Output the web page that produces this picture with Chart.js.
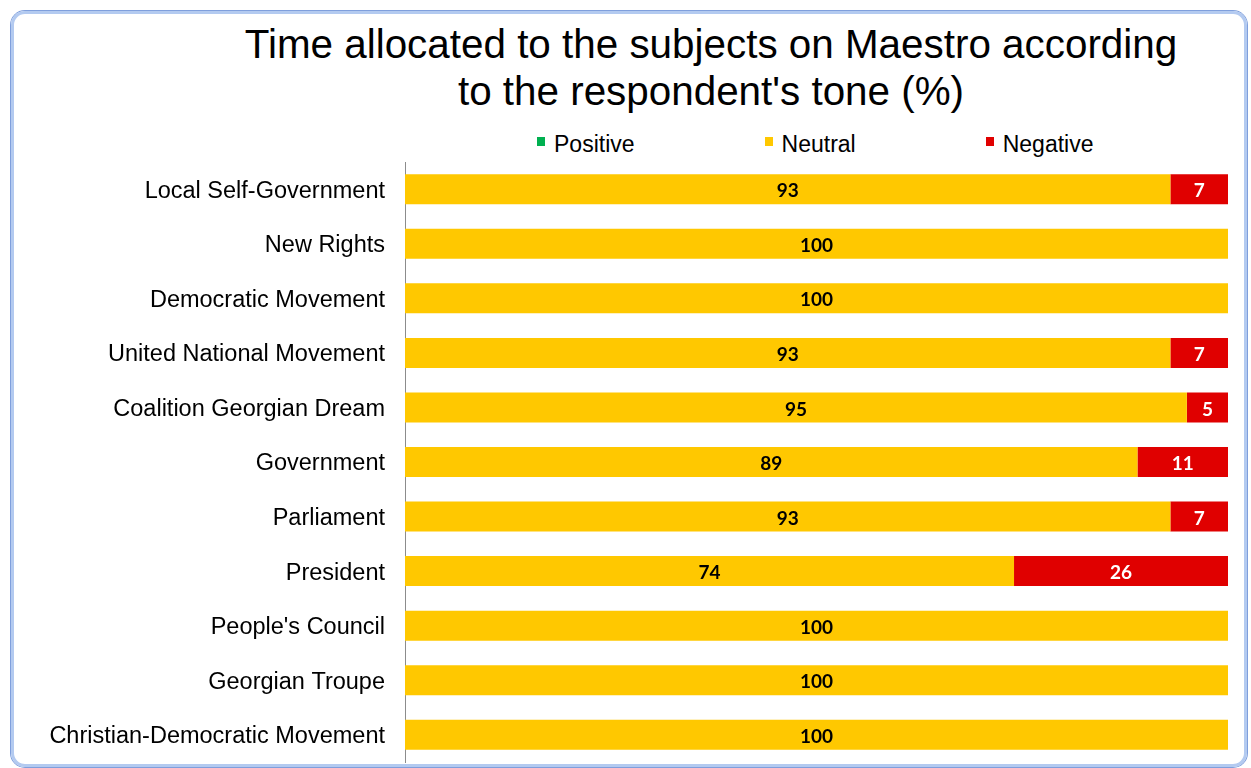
<!DOCTYPE html>
<html lang="en">
<head>
    <meta charset="UTF-8">
    <title>Time allocated to the subjects on Maestro</title>
    <script src="https://cdn.jsdelivr.net/npm/chart.js"></script>
    <style>
        html, body { margin: 0; padding: 0; background: #fff; }
        body { width: 1251px; height: 768px; position: relative; overflow: hidden; }
        .frame {
            position: absolute; left: 11px; top: 11px; width: 1230px; height: 750px;
            border: 3px solid #b3caf0; border-radius: 14px;
            box-shadow: 0 0 0 1px #7f9fdc;
        }
        .title {
            position: absolute; left: 211px; width: 1000px; top: 21px;
            font-family: "Liberation Sans", Arial, sans-serif; font-size: 40.4px; line-height: 47px;
            text-align: center; color: #000;
        }
        #legend {
            position: absolute; left: 537px; top: 132px; display: flex; gap: 130px;
            font-family: "Liberation Sans", Arial, sans-serif; font-size: 23px; line-height: 24px; color: #000;
        }
        #legend .item { display: flex; align-items: flex-start; }
        #legend .box { width: 8px; height: 9px; margin: 5px 9px 0 0; }
        canvas { position: absolute; left: 0; top: 0; }
    </style>
</head>
<body>
    <div class="frame"></div>
    <div class="title">Time allocated to the subjects on Maestro according<br>to the respondent's tone (%)</div>
    <div id="legend"></div>
    <canvas id="toneChart" width="1251" height="768"></canvas>

<script>
const subjects = [
    "Local Self-Government",
    "New Rights",
    "Democratic Movement",
    "United National Movement",
    "Coalition Georgian Dream",
    "Government",
    "Parliament",
    "President",
    "People's Council",
    "Georgian Troupe",
    "Christian-Democratic Movement"
];
const positive = [0, 0, 0, 0, 0, 0, 0, 0, 0, 0, 0];
const neutral  = [93, 100, 100, 93, 95, 89, 93, 74, 100, 100, 100];
const negative = [7, 0, 0, 7, 5, 11, 7, 26, 0, 0, 0];

const seriesNames = ["Positive", "Neutral", "Negative"];
const seriesColors = ["#00b050", "#ffc800", "#e00000"];
const labelColors = ["#000", "#000", "#fff"];

// values printed in the middle of each segment
const segmentLabels = {
    id: "segmentLabels",
    afterDatasetsDraw(chart) {
        const ctx = chart.ctx;
        ctx.save();
        ctx.font = "bold 19px Lato, 'Liberation Sans', sans-serif";
        ctx.textAlign = "center";
        ctx.textBaseline = "middle";
        chart.data.datasets.forEach((ds, i) => {
            const meta = chart.getDatasetMeta(i);
            meta.data.forEach((bar, j) => {
                const v = ds.data[j];
                if (!v) return;
                const p = bar.getProps(["x", "y", "base"], true);
                ctx.fillStyle = labelColors[i];
                ctx.fillText(String(v), (p.x + p.base) / 2, p.y + 2);
            });
        });
        ctx.restore();
    }
};

const seriesData = [positive, neutral, negative];

const legendEl = document.getElementById("legend");
seriesNames.forEach((name, i) => {
    const item = document.createElement("div");
    item.className = "item";
    item.innerHTML = `<span class="box" style="background:${seriesColors[i]}"></span><span>${name}</span>`;
    legendEl.appendChild(item);
});

new Chart(document.getElementById("toneChart"), {
    type: "bar",
    data: {
        labels: subjects,
        datasets: seriesNames.map((name, i) => ({
            label: name,
            data: seriesData[i],
            backgroundColor: seriesColors[i],
            borderWidth: 0,
            barPercentage: 0.55,
            categoryPercentage: 1
        }))
    },
    options: {
        indexAxis: "y",
        responsive: false,
        devicePixelRatio: 1,
        animation: false,
        layout: { padding: { top: 162, right: 23, bottom: 6, left: 0 } },
        plugins: {
            legend: { display: false },
            title: { display: false },
            tooltip: { enabled: false }
        },
        scales: {
            x: {
                stacked: true,
                min: 0,
                max: 100,
                display: false
            },
            y: {
                stacked: true,
                grid: { display: false, drawTicks: false },
                border: { display: true, color: "#8c8c8c", width: 1 },
                ticks: {
                    color: "#000",
                    padding: 20,
                    labelOffset: 2,
                    font: { family: "'Liberation Sans', Arial, sans-serif", size: 23.5 }
                },
                afterFit(scale) {
                    scale.width = 405;
                    scale.paddingTop = 0;
                    scale.paddingBottom = 0;
                }
            }
        }
    },
    plugins: [segmentLabels]
});
</script>
</body>
</html>
